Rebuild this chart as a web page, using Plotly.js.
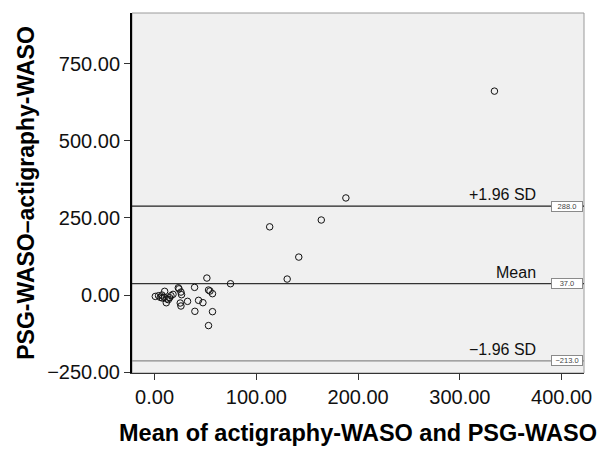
<!DOCTYPE html>
<html>
<head>
<meta charset="utf-8">
<script src="https://cdn.plot.ly/plotly-3.0.1.min.js"></script>
<style>
  html, body { margin: 0; padding: 0; background: #fff; }
  #chart { width: 609px; height: 449px; }
</style>
</head>
<body>
<div id="chart"></div>
<script>
// Mean of the two methods (x) and their difference (y)
const meanWASO = [0.7, 3.9, 5.6, 7.6, 9.9, 9.5, 11.5, 12.2, 13.5, 14.8, 16.1, 18.1, 7.2,
  23.3, 24.0, 25.9, 26.5, 25.2, 25.9, 32.4, 39.3, 39.6, 43.2, 47.5, 51.4, 53.0, 54.4,
  56.9, 56.9, 53.0, 74.6, 113.1, 130.3, 141.7, 163.8, 188.0, 334.0];
const diffWASO = [-4.5, -2.2, -7.5, -9.7, 12.0, -7.5, -25.0, -12.9, -15.1, -8.6, -2.2, 2.2, 0.0,
  23.5, 20.0, 9.5, 1.0, -25.9, -35.6, -20.5, 24.8, -52.8, -17.2, -24.8, 55.0, 16.2, 13.0,
  4.3, -53.9, -99.0, 36.6, 220.9, 51.7, 122.9, 243.0, 314.5, 660.5];

// Reference lines
const refValues = [288.0, 37.0, -213.0];
const refNames = ['+1.96 SD', 'Mean', '\u22121.96 SD'];
const refBoxLabels = ['288.0', '37.0', '\u2212213.0'];
const refColors = ['#222222', '#333333', '#8a8a8a'];

// Tick labels
const xTickVals = [0, 100, 200, 300, 400];
const xTickText = ['0.00', '100.00', '200.00', '300.00', '400.00'];
const yTickVals = [-250, 0, 250, 500, 750];
const yTickText = ['\u2212250.00', '0.00', '250.00', '500.00', '750.00'];

const font = 'Liberation Sans, Arial, Helvetica, sans-serif';

const shapes = [{
  type: 'rect', xref: 'paper', yref: 'paper', x0: 0, x1: 1, y0: 0, y1: 1,
  line: {color: '#9a9a9a', width: 1}, layer: 'below'
}];
const annotations = [];
refValues.forEach((v, i) => {
  shapes.push({
    type: 'line', xref: 'paper', yref: 'y', x0: 0, x1: 1, y0: v, y1: v,
    line: {color: refColors[i], width: 1.3}, layer: 'below'
  });
  annotations.push({
    xref: 'paper', yref: 'y', x: 0.899, y: v, xanchor: 'right', yanchor: 'bottom',
    yshift: 1, showarrow: false, text: refNames[i],
    font: {family: font, size: 16, color: '#111'}
  });
  annotations.push({
    xref: 'paper', yref: 'y', x: 0.998, y: v, xanchor: 'right', yanchor: 'middle',
    showarrow: false, text: refBoxLabels[i], width: 29, height: 8, borderpad: 0.5,
    bgcolor: '#ffffff', bordercolor: '#8a8a8a', borderwidth: 1,
    font: {family: font, size: 7.5, color: '#444'}
  });
});

const trace = {
  type: 'scatter', mode: 'markers', x: meanWASO, y: diffWASO,
  marker: {symbol: 'circle-open', size: 6.5, color: '#111', line: {width: 1, color: '#111'}},
  hoverinfo: 'x+y', showlegend: false
};

const layout = {
  width: 609, height: 449,
  margin: {l: 132, r: 25, t: 13, b: 76},
  paper_bgcolor: '#ffffff', plot_bgcolor: '#f0f0f0',
  font: {family: font, size: 20, color: '#111'},
  showlegend: false,
  xaxis: {
    range: [-22.2, 422], tickvals: xTickVals, ticktext: xTickText,
    showgrid: false, zeroline: false, showline: true, linecolor: '#333', linewidth: 1.3,
    ticks: 'outside', ticklen: 6, tickcolor: '#333', tickwidth: 1,
    tickfont: {family: font, size: 20, color: '#111'},
    title: {text: 'Mean of actigraphy-WASO and PSG-WASO', standoff: 17,
      font: {family: font, size: 23.5, color: '#000', weight: 'bold'}}
  },
  yaxis: {
    range: [-252.6, 913.6], tickvals: yTickVals, ticktext: yTickText,
    showgrid: false, zeroline: false, showline: true, linecolor: '#000', linewidth: 2,
    ticks: 'outside', ticklen: 6, tickcolor: '#333', tickwidth: 1,
    tickfont: {family: font, size: 20, color: '#111'},
    title: {text: 'PSG-WASO\u2013actigraphy-WASO', standoff: 6,
      font: {family: font, size: 23, color: '#000', weight: 'bold'}}
  },
  shapes: shapes,
  annotations: annotations
};

Plotly.newPlot('chart', [trace], layout, {displayModeBar: false, staticPlot: true});
</script>
</body>
</html>
